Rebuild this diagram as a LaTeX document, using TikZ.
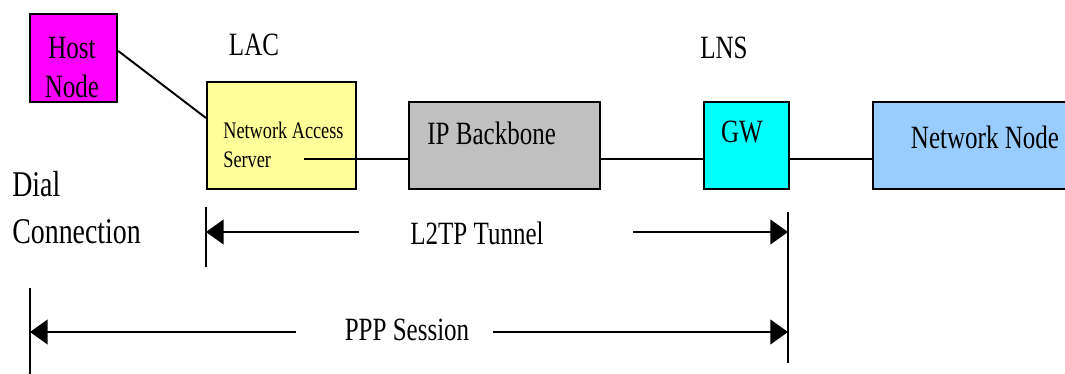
\documentclass[tikz,border=0pt]{standalone}
\usepackage{fontspec}
\setmainfont{Liberation Serif}
\usetikzlibrary{arrows.meta,calc}
\definecolor{hostc}{HTML}{FF00FF}
\definecolor{nasc}{HTML}{FFFF99}
\definecolor{ipc}{HTML}{C0C0C0}
\definecolor{gwc}{HTML}{00FFFF}
\definecolor{nnc}{HTML}{99CCFF}
\newcommand{\nar}[1]{\scalebox{0.77}[1]{#1}}
\newcommand{\narc}[1]{\scalebox{0.77}[1]{\begin{tabular}{@{}c@{}}#1\end{tabular}}}
\newcommand{\narl}[1]{\scalebox{0.77}[1]{\begin{tabular}{@{}l@{}}#1\end{tabular}}}
\begin{document}
\begin{tikzpicture}[x=0.02cm,y=-0.02cm,
  box/.style={draw=black, line width=1.3pt, rectangle, inner sep=0pt, anchor=north west},
  conn/.style={line width=1.1pt},
  bar/.style={line width=1.1pt},
  lbl/.style={font=\fontsize{18.5}{22}\selectfont, inner sep=0pt},
  arr/.style={line width=1.1pt, -{Triangle[length=10pt,width=14pt]}}]
\useasboundingbox (0,0) rectangle (1065,373);
\clip (0,0) rectangle (1065,373);
% boxes
\node[box, fill=hostc, minimum width=1.74cm, minimum height=1.76cm] (host) at (29,13) {};
\node[box, fill=nasc, minimum width=2.98cm, minimum height=2.14cm] (nas) at (206,81) {};
\node[box, fill=ipc, minimum width=3.82cm, minimum height=1.74cm] (ip) at (408,101) {};
\node[box, fill=gwc, minimum width=1.70cm, minimum height=1.74cm] (gw) at (703,101) {};
\node[box, fill=nnc, minimum width=4.30cm, minimum height=1.74cm] (nn) at (872,101) {};
% texts
\node[lbl] (hosttxt) at (72,70) {\narc{Host\\Node}};
\node[lbl] (lac) at (254,45) {\nar{LAC}};
\node[lbl] (lns) at (724,48) {\nar{LNS}};
\node[inner sep=0pt, anchor=west, font=\fontsize{13.5}{16.4}\selectfont] (nastxt) at (223,147) {\narl{Network Access\\Server}};
\node[lbl, anchor=west] (iptxt) at (427,133) {\nar{IP Backbone}};
\node[lbl] (gwtxt) at (742,132) {\nar{GW}};
\node[lbl] (nntxt) at (985,137) {\nar{Network Node}};
\node[inner sep=0pt, anchor=west, font=\fontsize{20.6}{26.6}\selectfont] (dial) at (12,211) {\narl{Dial\\Connection}};
\node[lbl] (l2tp) at (477,233) {\nar{L2TP Tunnel}};
\node[lbl] (ppp) at (407,330) {\nar{PPP Session}};
% connectors
\coordinate (nasout) at (304,159);
\draw[conn] (host.east |- 0,51) -- (nas.west |- 0,118);
\draw[conn] (nasout) -- (ip.west |- nasout);
\draw[conn] (ip.east |- nasout) -- (gw.west |- nasout);
\draw[conn] (gw.east |- nasout) -- (nn.west |- nasout);
% bars
\coordinate (b1t) at (206,207); \coordinate (b1b) at (206,267);
\coordinate (b2t) at (788,212); \coordinate (b2b) at (788,363);
\coordinate (b3t) at (30,288);  \coordinate (b3b) at (30,375);
\draw[bar] (b1t) -- (b1b);
\draw[bar] (b2t) -- (b2b);
\draw[bar] (b3t) -- (b3b);
% arrows
\coordinate (l2l) at (359,232); \coordinate (l2r) at (633,232);
\coordinate (ppl) at (296,332); \coordinate (ppr) at (493,332);
\draw[arr] (l2l) -- (b1t |- l2l);
\draw[arr] (l2r) -- (b2t |- l2r);
\draw[arr] (ppl) -- (b3t |- ppl);
\draw[arr] (ppr) -- (b2t |- ppr);
\end{tikzpicture}
\end{document}
